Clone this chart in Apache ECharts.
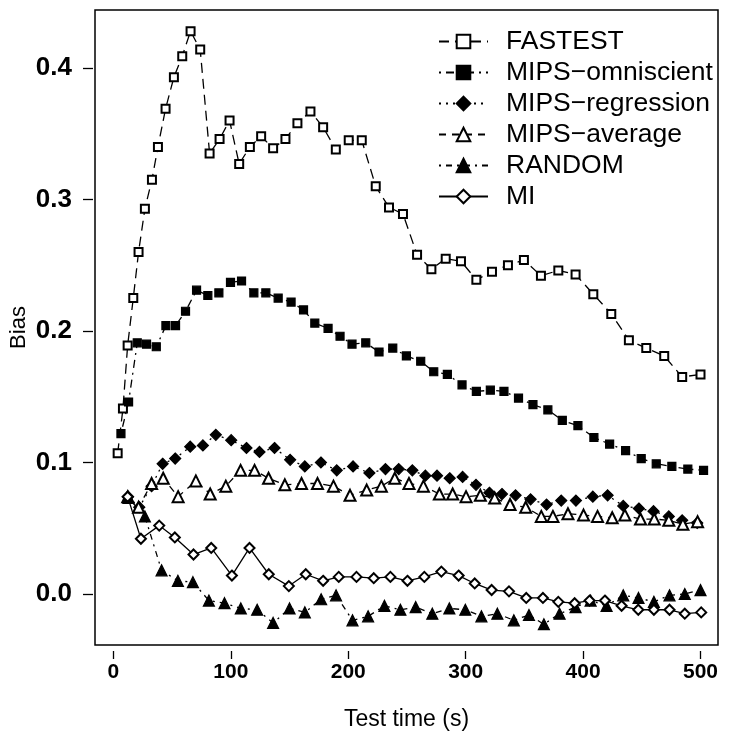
<!DOCTYPE html>
<html>
<head>
<meta charset="utf-8">
<script src="https://cdn.jsdelivr.net/npm/echarts@6/dist/echarts.min.js"></script>
<style>html,body{margin:0;padding:0;background:#fff}#c{width:733px;height:734px}</style>
</head>
<body>
<div id="c"></div>
<script>
var xTicks = [0, 100, 200, 300, 400, 500];
var yTicks = [0, 0.1, 0.2, 0.3, 0.4];

var fastest = [[3.6,0.107],[8.1,0.141],[12.1,0.189],[16.9,0.225],[21.4,0.260],[26.8,0.293],[32.8,0.315],[37.9,0.340],[44.4,0.369],[51.5,0.393],[58.6,0.409],[65.7,0.428],[73.9,0.414],[81.9,0.335],[90.4,0.346],[98.9,0.360],[107.1,0.327],[116.2,0.340],[125.8,0.348],[136,0.339],[146.5,0.346],[156.7,0.358],[167.8,0.367],[178.6,0.355],[189.4,0.338],[200.4,0.345],[211.5,0.345],[223.4,0.310],[234.7,0.294],[246.6,0.289],[258.6,0.258],[270.8,0.247],[283,0.255],[296,0.253],[309.1,0.239],[322.4,0.245],[336,0.250],[349.6,0.254],[364.1,0.242],[378.9,0.246],[393.6,0.243],[408.7,0.228],[424,0.213],[439,0.193],[453.8,0.187],[469.1,0.181],[484.4,0.165],[500,0.167]];

var omniscient = [[6.4,0.122],[12.9,0.146],[20.3,0.191],[28.2,0.190],[36.5,0.188],[44.7,0.204],[52.9,0.204],[61.4,0.215],[70.8,0.231],[80.4,0.227],[89.8,0.229],[99.7,0.237],[109.1,0.238],[119.6,0.229],[129.8,0.229],[140.3,0.225],[151.3,0.222],[161.9,0.216],[171.5,0.206],[182.8,0.202],[193,0.196],[203.2,0.190],[214.9,0.191],[226.2,0.184],[237.9,0.187],[249.5,0.181],[261.7,0.177],[272.8,0.169],[284.4,0.167],[296.9,0.159],[309.1,0.154],[321,0.155],[332.6,0.154],[345,0.149],[357.3,0.144],[370,0.140],[382.3,0.132],[395.6,0.128],[409.2,0.119],[422.6,0.114],[436.2,0.109],[449.5,0.103],[462.3,0.099],[475.6,0.097],[489.2,0.095],[502.6,0.094]];

var regression = [[12.5,0.074],[22,0.066],[32.5,0.082],[41.9,0.099],[52.6,0.103],[65.4,0.112],[76.2,0.113],[87.2,0.121],[100.3,0.117],[113.3,0.111],[124.4,0.108],[137.2,0.111],[150.5,0.102],[163,0.097],[176.7,0.100],[190.2,0.094],[204.1,0.097],[218,0.092],[231.7,0.095],[243,0.095],[254.6,0.094],[265.7,0.090],[275.6,0.090],[286.4,0.088],[297.4,0.089],[308.8,0.083],[320.2,0.077],[330.9,0.076],[342.5,0.075],[355.3,0.072],[368.9,0.068],[381.4,0.071],[393.9,0.071],[408.3,0.074],[420.9,0.075],[434.2,0.067],[447.5,0.065],[460,0.063],[473,0.059],[484.4,0.056],[497.2,0.054]];

var average = [[12.2,0.074],[21.4,0.066],[32.5,0.084],[42.4,0.088],[55.1,0.074],[70.2,0.086],[82.4,0.076],[95.7,0.082],[108.3,0.094],[120.2,0.094],[132.1,0.088],[146,0.083],[160.2,0.084],[173.8,0.084],[187.4,0.082],[201.5,0.075],[215.7,0.079],[228.2,0.082],[239.6,0.088],[251.7,0.084],[264,0.082],[277.6,0.076],[288.9,0.076],[300.3,0.074],[312.5,0.075],[324.7,0.073],[337.8,0.068],[351.1,0.066],[364.4,0.059],[374.3,0.059],[387.1,0.061],[400.4,0.060],[412.3,0.059],[424.8,0.058],[435.6,0.060],[448.9,0.057],[460.6,0.057],[473,0.056],[485,0.053],[497.5,0.055]];

var random = [[12.8,0.073],[26.8,0.059],[41,0.018],[54.9,0.010],[67.7,0.009],[81.3,-0.005],[94.6,-0.007],[108.5,-0.011],[122.4,-0.012],[136,-0.022],[150,-0.011],[163,-0.014],[176.9,-0.004],[189.6,-0.001],[203.6,-0.020],[216.9,-0.017],[230.8,-0.009],[244.4,-0.012],[257.4,-0.010],[271.6,-0.015],[286.1,-0.011],[299.7,-0.012],[313.4,-0.017],[327,-0.015],[341,-0.020],[353.9,-0.016],[366.6,-0.023],[380,-0.015],[393.6,-0.010],[406.4,-0.005],[420,-0.009],[434.2,-0.001],[447.2,-0.003],[460.3,-0.006],[473.6,-0.001],[486.6,0.000],[500,0.003]];

var mi = [[12.1,0.074],[23.4,0.042],[39,0.052],[52.3,0.043],[68.2,0.030],[83.3,0.035],[100.9,0.014],[115.9,0.035],[132.3,0.015],[149.4,0.006],[163.8,0.015],[178.6,0.010],[191.9,0.013],[207,0.013],[221.7,0.012],[235.9,0.013],[250.4,0.010],[264.8,0.013],[279.3,0.017],[294,0.014],[307.7,0.008],[322.1,0.003],[336.9,0.002],[351.6,-0.003],[365.8,-0.003],[378.9,-0.006],[392.8,-0.007],[405.5,-0.005],[418.6,-0.005],[432.8,-0.009],[447,-0.012],[460.3,-0.012],[473.6,-0.012],[486.6,-0.015],[500.6,-0.014]];

var names = ['FASTEST', 'MIPS\u2212omniscient', 'MIPS\u2212regression', 'MIPS\u2212average', 'RANDOM', 'MI'];

function mk(name, data, symbol, size, dash) {
  return {
    name: name, type: 'line', data: data, symbol: symbol, symbolSize: size,
    showSymbol: true, animation: false, z: 3,
    lineStyle: { color: '#000', width: 1.3, type: dash },
    itemStyle: { color: '#000', borderColor: '#000', borderWidth: 1.2 },
    emphasis: { disabled: true }
  };
}

var FONT = 'Liberation Sans, Arial, Helvetica, sans-serif';
var chart = echarts.init(document.getElementById('c'), null, { renderer: 'canvas' });
chart.setOption({
  animation: false,
  backgroundColor: '#fff',
  grid: { left: 95, right: 15, top: 10, bottom: 89, outerBoundsMode: 'none', containLabel: false,
    show: true, borderColor: '#000', borderWidth: 1.5, backgroundColor: 'transparent' },
  legend: {
    orient: 'vertical', left: 433, top: 23, itemWidth: 49, itemHeight: 17, itemGap: 4,
    data: names,
    textStyle: { fontFamily: FONT, fontSize: 26.5, color: '#000', padding: [0, 0, 0, 13] },
    selectedMode: false
  },
  xAxis: {
    type: 'value', min: -15.7, max: 514.9, offset: 6,
    name: 'Test time (s)', nameLocation: 'middle', nameGap: 57,
    nameTextStyle: { fontFamily: FONT, fontSize: 23, color: '#000' },
    axisLine: { show: false, onZero: false },
    axisTick: { show: true, length: 8, lineStyle: { color: '#000', width: 1.3 }, customValues: xTicks },
    axisLabel: { fontFamily: FONT, fontSize: 21, fontWeight: 'bold', color: '#000', margin: 11, customValues: xTicks },
    splitLine: { show: false }
  },
  yAxis: {
    type: 'value', min: -0.0388, max: 0.4441, offset: 2,
    name: 'Bias', nameLocation: 'middle', nameGap: 63, nameRotate: 90, nameMoveOverlap: false,
    nameTextStyle: { fontFamily: FONT, fontSize: 22, color: '#000' },
    axisLine: { show: false, onZero: false },
    axisTick: { show: true, length: 10, lineStyle: { color: '#000', width: 1.3 }, customValues: yTicks },
    axisLabel: { fontFamily: FONT, fontSize: 26, fontWeight: 'bold', color: '#000', margin: 21, customValues: yTicks,
      formatter: function (v) { return v.toFixed(1); } },
    splitLine: { show: false }
  },
  series: [
    mk(names[0], fastest, 'emptyRect', 8, [10, 6]),
    mk(names[1], omniscient, 'rect', 8, [2, 5, 8, 5]),
    mk(names[2], regression, 'diamond', 11, [2, 5]),
    mk(names[3], average, 'emptyTriangle', 11, [7, 6]),
    mk(names[4], random, 'triangle', 11, [2, 5, 6, 5]),
    mk(names[5], mi, 'emptyDiamond', 10, 'solid')
  ]
});
</script>
</body>
</html>
